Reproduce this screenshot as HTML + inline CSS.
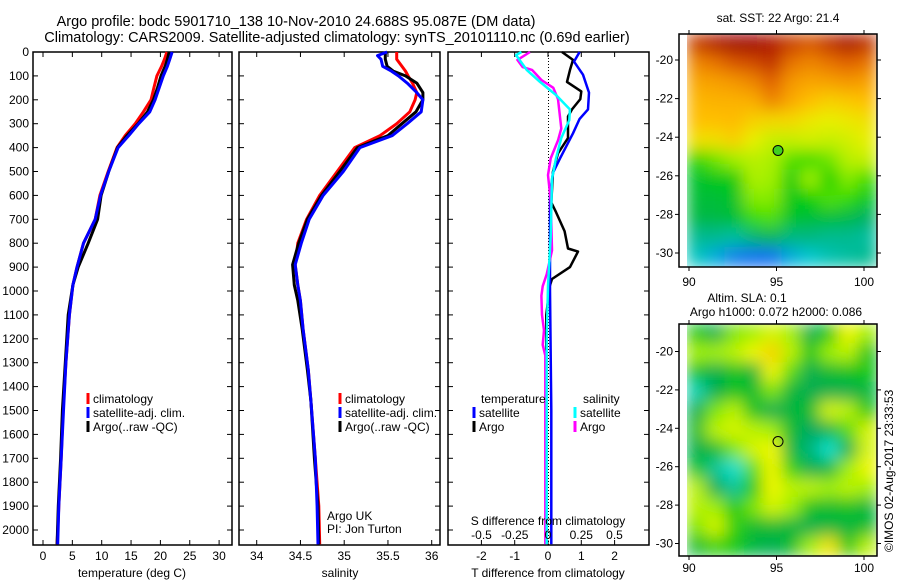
<!DOCTYPE html>
<html><head><meta charset="utf-8">
<style>
html,body{margin:0;padding:0;background:#fff;}
svg text{font-family:"Liberation Sans",sans-serif;font-size:12px;fill:#000;}
svg text.big{font-size:14.5px;}
</style></head>
<body>
<svg id="chart" width="900" height="580" viewBox="0 0 900 580" xmlns="http://www.w3.org/2000/svg">
<defs>
<filter id="blur1" x="0" y="0" width="1" height="1"><feGaussianBlur stdDeviation="8" edgeMode="duplicate"/></filter>
<clipPath id="clip1"><rect x="687" y="34" width="190" height="233"/></clipPath>
<clipPath id="clip2"><rect x="687" y="324" width="190" height="232"/></clipPath>
</defs>
<text class="big" x="296" y="26" text-anchor="middle">Argo profile: bodc 5901710_138 10-Nov-2010 24.688S 95.087E (DM data)</text>
<text class="big" x="337" y="42" text-anchor="middle">Climatology: CARS2009. Satellite-adjusted climatology: synTS_20101110.nc (0.69d earlier)</text>
<g id="g1"></g>
<g id="g2"></g>
<g id="g3"></g>
<g id="m1"></g>
<g id="m2"></g>
<text transform="translate(893,552) rotate(-90)">©IMOS 02-Aug-2017 23:33:53</text>
</svg>
<script>
// ---- data ----
const depthTicks = [0,100,200,300,400,500,600,700,800,900,1000,1100,1200,1300,1400,1500,1600,1700,1800,1900,2000];
const tempTicks = [0,5,10,15,20,25,30];
const salTicks = [34,34.5,35,35.5,36];
const salTickLabels = ["34","34.5","35","35.5","36"];
const tdiffTicks = [-2,-1,0,1,2];
const sdiffTicks = [-0.5,-0.25,0,0.25,0.5];
const sdiffTickLabels = ["-0.5","-0.25","0","0.25","0.5"];

const tempDepth = [0,30,60,100,150,200,250,300,350,400,500,600,700,800,900,975,1100,1300,1500,1700,1900,2060];
const tempClim  = [21.1,20.7,20.2,19.4,18.9,18.4,17.1,15.7,14.0,12.6,11.1,9.7,8.9,6.9,5.8,5.1,4.5,3.9,3.4,3.1,2.7,2.4];
const tempSat   = [22.0,21.6,21.2,20.5,19.8,19.1,18.2,16.3,14.6,12.8,11.2,9.8,8.9,6.9,5.8,5.1,4.5,3.9,3.5,3.1,2.7,2.5];
const tempArgo  = [21.5,21.2,20.8,20.1,19.5,18.8,17.8,16.2,14.3,12.7,11.2,9.9,9.3,7.7,6.0,5.1,4.3,3.8,3.3,3.0,2.6,2.4];

const salDepth = [0,15,30,60,80,100,130,170,200,250,300,350,400,500,600,700,800,890,975,1040,1160,1330,1460,1700,1900,2060];
const salClim  = [35.6,35.6,35.6,35.66,35.7,35.73,35.78,35.83,35.81,35.75,35.6,35.41,35.12,34.92,34.72,34.57,34.47,34.44,34.47,34.5,34.53,34.59,34.62,34.67,34.71,34.72];
const salSat   = [35.49,35.38,35.42,35.44,35.54,35.62,35.72,35.83,35.9,35.88,35.72,35.55,35.18,34.99,34.76,34.6,34.51,34.44,34.47,34.5,34.53,34.59,34.62,34.67,34.69,34.7];
const salArgo  = [35.47,35.47,35.47,35.49,35.56,35.7,35.83,35.9,35.9,35.82,35.66,35.5,35.15,34.95,34.74,34.58,34.48,34.41,34.43,34.47,34.52,34.58,34.62,34.66,34.7,34.71];

const tdArgoDepth = [0,33,75,125,165,197,240,270,360,424,500,630,670,750,822,835,900,950,980,1100,1500,2060];
const tdArgo      = [0.42,0.75,0.66,0.57,1.0,0.97,0.72,0.6,0.6,0.3,0.15,0.1,0.24,0.5,0.6,0.9,0.66,0.12,0.05,-0.05,-0.06,-0.05];
const tdSatDepth  = [0,40,95,170,240,280,340,445,505,600,1000,1500,2060];
const tdSat       = [0.95,0.78,1.05,1.23,1.2,0.95,0.75,0.36,0.15,0.06,0.06,0.1,0.1];
const sdArgoDepth = [0,33,63,75,117,150,197,320,370,445,515,620,830,930,980,1020,1100,1165,1225,1270,2060];
const sdArgo      = [-0.135,-0.23,-0.19,-0.12,-0.05,0.04,0.075,0.1,0.075,0.02,0.0,0.02,0.03,-0.01,-0.04,-0.05,-0.045,-0.03,-0.04,-0.02,-0.02];
const sdSatDepth  = [0,13,75,125,180,240,285,360,445,530,770,980,1200,2060];
const sdSat       = [-0.2,-0.24,-0.16,-0.06,0.06,0.165,0.16,0.1,0.06,0.03,0.02,0.0,-0.01,-0.01];

const mapLonTicks = [90,95,100];
const mapLatTicks = [-20,-22,-24,-26,-28,-30];
const argoLon = 95.087, argoLat = -24.688;
const sstGrid = [
 [24.5,24.8,25,25,24.8,24.5,24.3,24.6,24.9,24.6],
 [23.8,24,24.3,24.4,24.6,24,23.8,24,24.2,24],
 [23.4,23.5,23.6,23.8,24.2,23.6,23.4,23.5,23.6,23.5],
 [23,23.1,23.1,23.2,23.8,23.3,22.8,22.6,22.7,22.8],
 [22.8,22.8,22.9,22.6,22.5,22.5,22.3,22.2,22.3,22.4],
 [22.4,22.4,22.6,22.2,21.9,21.9,22,21.9,22,22.2],
 [21.1,21.4,21.6,21.8,21.7,21.3,21.2,21.4,21.8,21.9],
 [20.7,20.8,20.9,21.7,21.6,20.9,21.6,21,21.5,21.2],
 [20.6,20.6,20.7,21.5,21.5,20.8,21,21.3,21.2,20.8],
 [20.5,20.5,20.6,21.2,21.3,20.7,20.6,20.6,20.5,20.3],
 [20,20,19.9,20.2,20.4,20.1,20.1,20,20,19.9],
 [19.7,19.4,19.1,19,19.0,19.4,19.6,19.8,19.9,20]];
const slaGrid = [
 [0,-0.04,0.03,0.04,0.06,0.04,-0.04,0.0,0.07,0.04],
 [0.04,0.04,0.05,0.07,0.09,0.05,0.0,0.04,0.05,-0.01],
 [-0.01,-0.04,-0.01,-0.03,0.07,0.02,-0.04,-0.02,-0.01,0.0],
 [-0.08,-0.04,-0.01,-0.02,0.03,-0.03,-0.04,-0.04,-0.04,-0.03],
 [-0.04,0.03,0.05,-0.01,-0.04,-0.03,-0.02,0.06,0.05,0.0],
 [-0.02,0.05,0.06,0.05,0.04,-0.02,-0.05,-0.03,0.02,0.06],
 [-0.04,-0.02,0.03,0.06,0.07,-0.03,-0.06,-0.09,-0.04,0.06],
 [-0.01,-0.07,-0.09,0.02,0.07,0.01,-0.04,-0.03,0.04,0.07],
 [0.05,-0.04,-0.07,0.0,0.07,0.05,0.05,0.04,0.05,0.04],
 [0.05,0.04,0.0,0.03,0.06,0.04,-0.01,-0.02,-0.01,-0.03],
 [0.03,0.06,0.01,-0.02,-0.02,-0.03,-0.04,-0.03,-0.03,-0.02],
 [-0.02,0.01,0.0,-0.03,-0.04,-0.02,0.04,0.08,0.0,0.05]];

// ---- helpers ----
const NS = "http://www.w3.org/2000/svg";
function mk(parent, tag, attrs, txt){
  const e = document.createElementNS(NS, tag);
  for (const k in attrs) e.setAttribute(k, attrs[k]);
  if (txt !== undefined) e.textContent = txt;
  parent.appendChild(e); return e;
}
const yD = d => 52 + d*0.239;
const TOP = 52, BOT = 545;

function frame(g, x0, x1, xTicks, xScale, tickLabels, labelY, showDepthLabels){
  const r = mk(g,'rect',{x:x0,y:TOP,width:x1-x0,height:BOT-TOP,fill:'none',stroke:'#000','stroke-width':1.5});
  
  
  depthTicks.forEach(d=>{
    const y = yD(d);
    const t1 = mk(g,'line',{x1:x0,x2:x0+5,y1:y,y2:y,stroke:'#000'});
    
    
    const t2 = mk(g,'line',{x1:x1-5,x2:x1,y1:y,y2:y,stroke:'#000'});
    
    
    if (showDepthLabels){
      const tl = mk(g,'text',{x:x0-4,y:y+4,'text-anchor':'end'}, String(d));
      
      
    }
  });
  xTicks.forEach((v,i)=>{
    const x = xScale(v);
    const a = mk(g,'line',{x1:x,x2:x,y1:TOP,y2:TOP+5,stroke:'#000'});
    
    
    const b = mk(g,'line',{x1:x,x2:x,y1:BOT-5,y2:BOT,stroke:'#000'});
    
    
    const l = mk(g,'text',{x:x,y:labelY,'text-anchor':'middle'}, tickLabels[i]);
    
    
  });
}
function line(g, xs, ds, xScale, color, w, name){
  const pts = xs.map((v,i)=>xScale(v).toFixed(1)+','+yD(ds[i]).toFixed(1)).join(' ');
  const p = mk(g,'polyline',{points:pts,fill:'none',stroke:color,'stroke-width':w,'stroke-linejoin':'round'});
  
  
}
function legend(g, x, y, color, label){
  const m = mk(g,'rect',{x:x-1.5,y:y-6,width:3,height:11,fill:color});
  
  
  const t = mk(g,'text',{x:x+5,y:y+4}, label);
  
  
}

// ---- panel 1 temperature ----
const g1 = document.getElementById('g1');
const xT = t => 43 + 5.87*t;
frame(g1, 33, 232, tempTicks, xT, tempTicks.map(String), 560, true);
line(g1, tempClim, tempDepth, xT, '#ff0000', 3, 'temp-climatology-line');
line(g1, tempArgo, tempDepth, xT, '#000000', 3, 'temp-argo-line');
line(g1, tempSat, tempDepth, xT, '#0000ff', 3, 'temp-satellite-line');
legend(g1, 88, 399, '#ff0000', 'climatology');
legend(g1, 88, 413, '#0000ff', 'satellite-adj. clim.');
legend(g1, 88, 427, '#000000', 'Argo(..raw -QC)');
{const t = mk(g1,'text',{x:132,y:577,'text-anchor':'middle'},'temperature (deg C)');
  }

// ---- panel 2 salinity ----
const g2 = document.getElementById('g2');
const xS = s => 256.7 + 87.5*(s-34);
frame(g2, 239, 440, salTicks, xS, salTickLabels, 560, false);
line(g2, salClim, salDepth, xS, '#ff0000', 3, 'sal-climatology-line');
line(g2, salArgo, salDepth, xS, '#000000', 3, 'sal-argo-line');
line(g2, salSat, salDepth, xS, '#0000ff', 3, 'sal-satellite-line');
legend(g2, 340, 399, '#ff0000', 'climatology');
legend(g2, 340, 413, '#0000ff', 'satellite-adj. clim.');
legend(g2, 340, 427, '#000000', 'Argo(..raw -QC)');
{const t = mk(g2,'text',{x:327,y:520},'Argo UK');
  
 const t2 = mk(g2,'text',{x:327,y:533},'PI: Jon Turton');
  
 const t3 = mk(g2,'text',{x:340,y:577,'text-anchor':'middle'},'salinity');
  }

// ---- panel 3 differences ----
const g3 = document.getElementById('g3');
const xTd = v => 548 + 33.3*v;
const xSd = v => 548 + 133*v;
frame(g3, 448, 649, tdiffTicks, xTd, tdiffTicks.map(String), 560, false);
{const z = mk(g3,'line',{x1:548.5,x2:548.5,y1:TOP,y2:BOT,stroke:'#000','stroke-dasharray':'1,2'});
  }
line(g3, tdArgo, tdArgoDepth, xTd, '#000000', 2.5, 'tdiff-argo-line');
line(g3, tdSat, tdSatDepth, xTd, '#0000ff', 2.5, 'tdiff-satellite-line');
line(g3, sdArgo, sdArgoDepth, xSd, '#ff00ff', 2.5, 'sdiff-argo-line');
line(g3, sdSat, sdSatDepth, xSd, '#00ffff', 2.5, 'sdiff-satellite-line');
sdiffTicks.forEach((v,i)=>{
  const l = mk(g3,'text',{x:xSd(v),y:539,'text-anchor':'middle'}, sdiffTickLabels[i]);
  
  
});
{const a = mk(g3,'text',{x:548,y:525,'text-anchor':'middle'},'S difference from climatology');
  
 const b = mk(g3,'text',{x:548,y:577,'text-anchor':'middle'},'T difference from climatology');
  
 const c = mk(g3,'text',{x:481,y:403},'temperature');
  
 const d = mk(g3,'text',{x:583,y:403},'salinity');
  }
legend(g3, 474, 413, '#0000ff', 'satellite');
legend(g3, 474, 427, '#000000', 'Argo');
legend(g3, 575, 413, '#00ffff', 'satellite');
legend(g3, 575, 427, '#ff00ff', 'Argo');

// ---- maps ----
function hex(h){return [parseInt(h.slice(1,3),16),parseInt(h.slice(3,5),16),parseInt(h.slice(5,7),16)];}
function cmap(stops, v){
  if (v<=stops[0][0]) return stops[0][1];
  for (let i=1;i<stops.length;i++){
    if (v<=stops[i][0]){
      const f=(v-stops[i-1][0])/(stops[i][0]-stops[i-1][0]);
      const a=hex(stops[i-1][1]), b=hex(stops[i][1]);
      return 'rgb('+a.map((c,k)=>Math.round(c+(b[k]-c)*f)).join(',')+')';
    }
  }
  return stops[stops.length-1][1];
}
const sstStops=[[19,'#1070f0'],[19.6,'#00c8d0'],[20.3,'#00b060'],[21,'#00d000'],[21.6,'#a0f000'],[22.2,'#e8f000'],[22.8,'#ffc000'],[23.5,'#f8a000'],[24.2,'#e06000'],[25,'#a00000']];
const slaStops=[[-0.09,'#10e0d0'],[-0.05,'#00a860'],[0,'#10c810'],[0.04,'#a0f000'],[0.07,'#f0f800'],[0.1,'#f8c000']];

function drawMap(g, grid, stops, y0, y1, lat20y, latPx, clipId, titleLines, titleXs, titleY, circleFill, xLabelY){
  const x0=679, x1=877, ix0=687;
  const xL = lon => 689 + (lon-90)*17.5;
  const yL = lat => lat20y + (-20-lat)*latPx;
  const rows=grid.length, cols=grid[0].length;
  const cw=(x1-ix0)/cols, rh=(y1-y0)/rows;
  const cg = mk(g,'g',{'clip-path':'url(#'+clipId+')'});
  
  
  const bg = mk(cg,'g',{filter:'url(#blur1)'});
  
  
  grid.forEach((row,r)=>row.forEach((v,c)=>{
    const e = mk(bg,'rect',{x:ix0+c*cw-0.5,y:y0+r*rh-0.5,width:cw+1,height:rh+1,fill:cmap(stops,v)});
    
    
  }));
  const fr = mk(g,'rect',{x:x0,y:y0,width:x1-x0,height:y1-y0,fill:'none',stroke:'#000','stroke-width':1.5});
  
  
  mapLatTicks.forEach(lat=>{
    const y=yL(lat);
    const a = mk(g,'line',{x1:x0-4,x2:x0,y1:y,y2:y,stroke:'#000'});
     
    const b = mk(g,'line',{x1:x1,x2:x1+4,y1:y,y2:y,stroke:'#000'});
     
    const t = mk(g,'text',{x:x0-6,y:y+4,'text-anchor':'end'}, String(lat));
     
  });
  mapLonTicks.forEach(lon=>{
    const x=xL(lon);
    const a = mk(g,'line',{x1:x,x2:x,y1:y0-4,y2:y0,stroke:'#000'});
     
    const b = mk(g,'line',{x1:x,x2:x,y1:y1,y2:y1+4,stroke:'#000'});
     
    const t = mk(g,'text',{x:x,y:xLabelY,'text-anchor':'middle'}, String(lon));
     
  });
  const c = mk(g,'circle',{cx:xL(argoLon),cy:yL(argoLat),r:5,fill:circleFill,stroke:'#000','stroke-width':1});
  
  
  titleLines.forEach((s,i)=>{
    const t = mk(g,'text',{x:titleXs[i],y:titleY+i*14,'text-anchor':'middle'}, s);
    
    
  });
}
drawMap(document.getElementById('m1'), sstGrid, sstStops, 34, 267, 60, 19.3, 'clip1', ['sat. SST: 22 Argo: 21.4'], [778], 22, '#40d020', 286);
drawMap(document.getElementById('m2'), slaGrid, slaStops, 324, 556, 351.5, 19.2, 'clip2', ['Altim. SLA: 0.1','Argo h1000: 0.072 h2000: 0.086'], [747,776], 302, 'none', 572);
</script>
</body></html>
